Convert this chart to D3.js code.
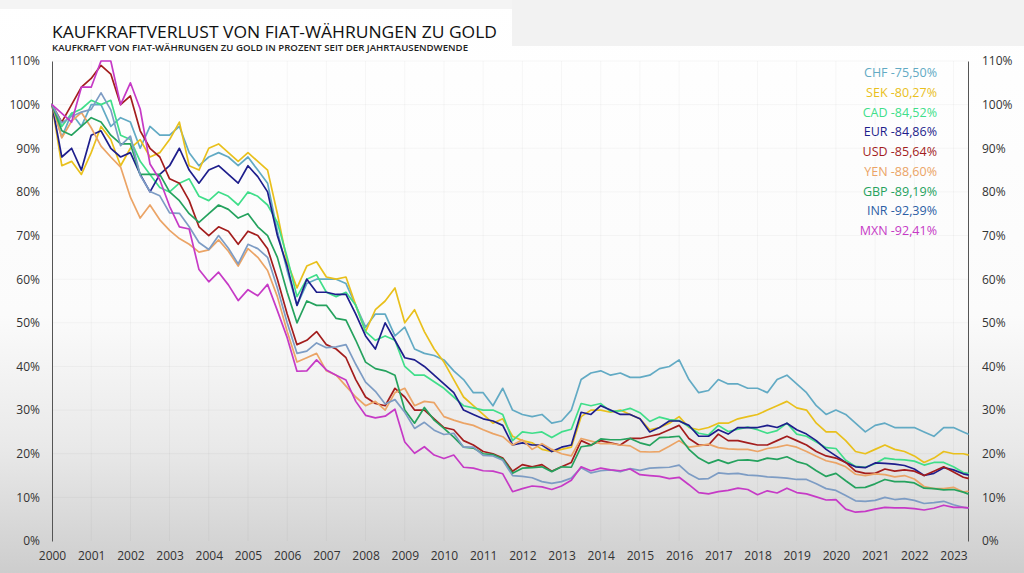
<!DOCTYPE html>
<html><head><meta charset="utf-8">
<script src="https://cdn.jsdelivr.net/npm/d3@7"></script>
<style>
html,body{margin:0;padding:0;width:1024px;height:573px;overflow:hidden;}
svg{display:block;font-family:"Open Sans","Noto Sans",sans-serif;}
</style></head>
<body><svg id="c" width="1024" height="573"></svg>
<script>
const title = "KAUFKRAFTVERLUST VON FIAT-WÄHRUNGEN ZU GOLD";
const subtitle = "KAUFKRAFT VON FIAT-WÄHRUNGEN ZU GOLD IN PROZENT SEIT DER JAHRTAUSENDWENDE";
const yearTicks = [2000,2001,2002,2003,2004,2005,2006,2007,2008,2009,2010,2011,2012,2013,2014,2015,2016,2017,2018,2019,2020,2021,2022,2023];
const pctTicks = [0,10,20,30,40,50,60,70,80,90,100,110];
const startYear = 2000, stepsPerYear = 4, endDate = 2023.37;
const currencies = ["CHF","SEK","CAD","EUR","USD","YEN","GBP","INR","MXN"];
const legendLabels = ["CHF -75,50%","SEK -80,27%","CAD -84,52%","EUR -84,86%","USD -85,64%","YEN -88,60%","GBP -89,19%","INR -92,39%","MXN -92,41%"];
const lineColors = ["#62aac4","#e9c01c","#40de8a","#1e1e8c","#a31d1d","#eba466","#25a25e","#7d9cc4","#c63ac6"];
const legendColors = ["#62aac4","#e9c01c","#40de8a","#1e1e8c","#a31d1d","#eba466","#25a25e","#2d5ea5","#c63ac6"];

const CHF = [100,92.5,98,95, 100,100,95,97, 96,90,95,93, 93,95,89,86, 88,89,88,86, 88,85,82,71, 62,54,59,60, 60,60,59,54, 49,52,52,47, 49,44,43,42.5, 41.5,39,37,34, 34,31,35,30, 29,28.5,29,27, 27.5,30,37,38.5, 39,38,38.5,37.5, 37.5,38,39.5,40, 41.5,37,34,34.5, 37,36,36,35, 35,34,37,38, 36,34,31,29, 30,29,27,25, 26.5,27,26,26, 26,25,24,26, 26,25, 24.5];
const SEK = [100,86,87,84, 89,95,92,86, 90,92,88,89, 92,96,86,85, 90,91,89,87, 89,87,85,75, 64,58,63,64, 60.5,60,60.5,54, 48,53,55,58, 50,53,48,44, 41,37,33,31, 29,27,28,24, 23,22.5,21,20.5, 21,21.5,28.5,30, 30,29.5,30,29, 28,25.5,26,27, 28.5,26,25.5,26, 27,27,28,28.5, 29,30,31,32, 30.5,30,27,25, 25,23,20.5,20, 21,22,21,20.5, 19.5,18,19,20.5, 20,20, 19.73];
const CAD = [100,95,98,99, 101,100,101,93, 92,87,84,81, 80,82,83,79, 78,80,79,77, 80,79,77,73, 65,56,60,61, 57,56,57,54, 48,46,47,46, 40,38,38,36.5, 35,33,31,30.5, 30,30,29,23, 25,24.7,25,23.7, 25,25.6,31.5,31, 31.5,29.7,29.8,30.4, 29.4,27.4,28.4,27.8, 27.6,26.2,24.7,24.3, 26.5,25.1,25.6,26.1, 25.5,24.7,25.3,27, 24.5,24,22.7,21.4, 21.2,18.5,17.1,16.9, 17.7,19,18.7,18.6, 18.3,17.4,18,18, 17,15.7, 15.48];
const EUR = [100,88,90,85, 93,94,90,88, 89,84,80,84, 86,90,85,82, 85,86,84,82, 86,83.5,80,70, 63,54,60,57, 57,56.5,56.5,52, 47,44,50,46, 42,41.5,40,38, 36,34,30,29, 28,27.5,26.5,22, 22.5,22,22,20.5, 21.5,22,29.5,29, 31,30,29,29, 28,25,26,27.5, 27.5,26.5,24,24, 25.5,24.5,26,26, 26,26.5,26,27, 25.5,24.5,23,21, 19.5,18,17,16.8, 17.9,17.8,17.6,17.3, 16.5,15,15.5,16.8, 16.3,15.4, 15.14];
const USD = [100,96,100,104, 106,109,107,100, 102,94,90,88, 83,82,78,72, 70,72,71,68, 71,70,67,60, 52,45,46,48, 45,44,42,37, 33,31.5,31,35, 33,30,30,28, 26,25.5,23,22, 20.5,20,19,16, 17.5,17,17.5,16, 17,18,23,22, 23,22.5,22,23.5, 23.5,24,24.5,25.5, 26.5,23.5,22,22, 24.5,23,23,22.5, 22,22,23,24, 23,22,20.5,19.5, 19,18,16,15.5, 15.5,16.5,16,16.3, 16,15,16,17, 15.8,14.6, 14.36];
const YEN = [100,92.4,96.2,98.2, 94.7,90.5,88,85.7, 78.8,74,77,73.6, 71.2,69.3,68,66.2, 66.7,69,66.4,63, 67,65,62,56, 48,41,42,43, 39,38,35.5,33, 31,32,30,34, 35,31,32,31.7, 28.5,27.7,27,26.5, 25.5,24.6,23.9,22, 23.2,21,22.3,21, 20,19.5,23.5,22.9, 22.3,22.3,22,21.8, 20.5,20.4,20.5,21.7, 23,21.5,21.8,22.2, 21.4,21.1,21,21, 20.5,21.2,21.5,22, 21.5,20.5,19.4,18.4, 17.9,17,15.3,15, 15.4,15.2,14.7,15, 14.2,12.5,12,12, 12.3,11.2, 11.4];
const GBP = [100,94,93,95, 97,96,93,91, 91,84,84,84, 80,78,75,73, 75,77,76,74, 75,72,70,65, 57,50,55,54, 54,51,50.6,46, 41,39.5,39,38, 30,27,30.6,27.7, 25.8,23.8,21.5,21.3, 20,19.8,18.8,15.5, 16.7,16.8,17,15.9, 17,16.9,21.6,21.9, 23.4,23.2,23.2,23.5, 22.5,21.9,23.7,23.8, 24,21,19,17.8, 18.6,17.8,18.5,18.6, 18.3,19,18.7,19.3, 18.2,17.6,16.1,14.8, 15.5,13.8,12.2,12.3, 13.1,14.1,13.6,13.6, 13.3,12.1,12,11.7, 11.8,11.2, 10.81];
const INR = [100,95.8,97.3,98.3, 98.9,102.7,98.8,90.6, 92.8,83.8,80.1,79.1, 75.2,75.1,72,68.4, 66.8,70,67.1,63.5, 68,67,65,58, 50,43,43.5,45.4, 44.3,44.5,45,40.5, 36.4,34.3,31.4,32.4, 29.5,25.8,27.2,25.4, 24.4,24.7,21.5,21.5, 19.6,19.5,18.5,15, 14.8,14.5,13.6,13.2, 13.6,14.4,16.8,15.6, 16.1,16.3,15.9,16.6, 16.2,16.7,16.8,16.9, 17.4,15.4,14.2,14.3, 15.6,15.4,15.5,15.1, 15,14.7,14.6,14.4, 14.1,14.1,13.1,12, 11.6,10.4,9.2,9.1, 9.3,10,9.5,9.7, 9.3,8.6,8.8,9.1, 8.3,7.7, 7.61];
const MXN = [100,98,96,104, 104,110,110,100, 105,99,86.4,82.8, 76.7,72,71.5,62.2, 59.4,61.6,58.7,55.1, 57.6,56.2,58.8,52.8, 46.6,38.9,39,41.5, 39.2,38,36.9,32, 28.8,28.2,28.6,30.2, 22.7,20.1,21.6,19.7, 18.9,19.7,16.9,16.7, 16.1,16,15.4,11.3, 12,12.6,12.4,11.8, 12.6,13.9,17,16.1, 16.7,16.3,16.1,16.5, 15.2,15,14.8,14.3, 14.6,12.9,11.1,10.8, 11.3,11.6,12.1,11.8, 10.6,11.5,11,12.1, 11.1,10.8,10.1,9.4, 9.5,7.3,6.6,6.8, 7.3,7.7,7.6,7.6, 7.4,7.1,7.5,8.2, 7.7,7.7, 7.59];

const seriesValues = [CHF,SEK,CAD,EUR,USD,YEN,GBP,INR,MXN];

const svg = d3.select("#c");
const W = 1024, H = 573;
const m = {left:52, right:1024-968, top:61, bottom:573-541};

// background
const defs = svg.append("defs");
const g1 = defs.append("linearGradient").attr("id","bg").attr("x1",0).attr("y1",0).attr("x2",0).attr("y2",1);
g1.append("stop").attr("offset","0").attr("stop-color","#ffffff");
g1.append("stop").attr("offset","0.55").attr("stop-color","#fbfbfb");
g1.append("stop").attr("offset","0.78").attr("stop-color","#e9e9e9");
g1.append("stop").attr("offset","1").attr("stop-color","#cdcdcd");
svg.append("rect").attr("width",W).attr("height",H).attr("fill","url(#bg)");
svg.append("rect").attr("x",512).attr("y",0).attr("width",W-512).attr("height",46).attr("fill","#f2f2f2");
svg.append("rect").attr("x",0).attr("y",0).attr("width",512).attr("height",9).attr("fill","#f4f4f4");

const x = d3.scaleLinear().domain([startYear, endDate]).range([m.left, W - m.right]);
const y = d3.scaleLinear().domain([0,110]).range([H - m.bottom, m.top]);

// grid
const grid = svg.append("g");
grid.selectAll("line.v").data(yearTicks.slice(1)).join("line")
  .attr("x1",d=>x(d)).attr("x2",d=>x(d)).attr("y1",y(110)).attr("y2",y(0))
  .attr("stroke","#000").attr("stroke-opacity",0.035);
grid.selectAll("line.h").data(pctTicks.slice(1)).join("line")
  .attr("x1",x(startYear)).attr("x2",x(endDate)).attr("y1",d=>y(d)).attr("y2",d=>y(d))
  .attr("stroke","#000").attr("stroke-opacity",0.035);

// axes
const fmt = d => d + "%";
const axL = svg.append("g").attr("transform",`translate(${x(startYear)},0)`)
  .call(d3.axisLeft(y).tickValues(pctTicks).tickFormat(fmt).tickSize(0).tickPadding(12));
const axR = svg.append("g").attr("transform",`translate(${x(endDate)},0)`)
  .call(d3.axisRight(y).tickValues(pctTicks).tickFormat(fmt).tickSize(0).tickPadding(14));
const axB = svg.append("g").attr("transform",`translate(0,${y(0)})`)
  .call(d3.axisBottom(x).tickValues(yearTicks).tickFormat(d3.format("d")).tickSize(0).tickPadding(10));
axB.select(".domain").remove();
[axL,axR].forEach(a=>a.select(".domain").attr("stroke","#555").attr("stroke-width",1));
[axL,axR,axB].forEach(a=>a.selectAll("text").attr("font-size",12).attr("fill","#333")
  .attr("font-family","'Open Sans','Noto Sans',sans-serif"));

// lines
const line = d3.line()
  .x((d,i,arr)=> x(i === arr.length-1 ? endDate : startYear + i/stepsPerYear))
  .y(d=>y(d));
const lg = svg.append("g").attr("fill","none").attr("stroke-linejoin","round").attr("stroke-linecap","round");
seriesValues.forEach((vals,k)=>{
  lg.append("path").attr("d",line(vals)).attr("stroke",lineColors[k]).attr("stroke-width",1.7);
});

// title
svg.append("text").attr("x",52).attr("y",38).text(title)
  .attr("font-size",17).attr("font-weight",500).attr("fill","#111").attr("textLength",445).attr("lengthAdjust","spacingAndGlyphs");
svg.append("text").attr("x",52).attr("y",51).text(subtitle)
  .attr("font-size",9.5).attr("font-weight",600).attr("fill","#222").attr("textLength",416).attr("lengthAdjust","spacingAndGlyphs");

// legend
const leg = svg.append("g");
legendLabels.forEach((t,k)=>{
  leg.append("text").attr("x",937).attr("y",73 + k*19.7).attr("dy","0.35em")
    .attr("text-anchor","end").attr("font-size",12.5).attr("font-weight",500)
    .attr("fill",legendColors[k]).text(t);
});
</script></body></html>
